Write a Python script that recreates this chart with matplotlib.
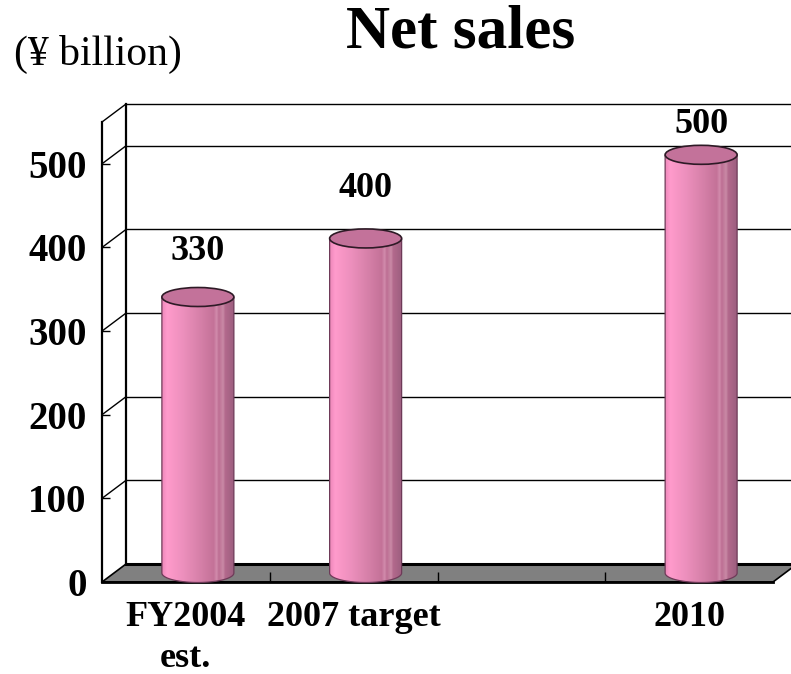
import numpy as np
import matplotlib
matplotlib.use("Agg")
import matplotlib.pyplot as plt
from matplotlib.colors import LinearSegmentedColormap
from matplotlib.patches import Polygon, Ellipse

categories = ["FY2004\nest.", "2007 target", "", "2010"]
sales = [330, 400, np.nan, 500]
y_ticks = [0, 100, 200, 300, 400, 500]
y_max = 550
value_label_pad = [27, 30, 16]  # points above each bar top

plt.rcParams["font.family"] = ["Liberation Serif", "DejaVu Serif"]

fig = plt.figure(figsize=(7.91, 6.74), dpi=100)
W, H = 791, 674
ax = fig.add_axes([102 / W, (H - 582) / H, (773 - 102) / W, (582 - 122) / H])
ax.set_xlim(-0.5, 3.5)
ax.set_ylim(0, y_max)

# depth of the fake 3D box, in data units (about 24 px right, 18 px up)
px_x = (773 - 102) / 4.0
px_y = (582 - 122) / y_max
DX = 24 / px_x
DY = 18 / px_y

x0, x1 = -0.5, 3.5
line_kw = dict(color="black", clip_on=False)

# back wall gridlines and top edge
for t in y_ticks[1:] + [y_max]:
    ax.plot([x0 + DX, x1 + DX], [t + DY, t + DY], lw=1.0, zorder=1, **line_kw)
    ax.plot([x0, x0 + DX], [t, t + DY], lw=1.0, zorder=1, **line_kw)

# left wall edges
ax.plot([x0, x0], [0, y_max], lw=1.6, zorder=2, **line_kw)
ax.plot([x0 + DX, x0 + DX], [DY, y_max + DY], lw=1.6, zorder=1, **line_kw)

# floor
floor = Polygon([(x0, 0), (x1, 0), (x1 + DX, DY), (x0 + DX, DY)],
                closed=True, fc="#808080", ec="black", lw=1.2,
                zorder=1.5, clip_on=False)
ax.add_patch(floor)
ax.plot([x0 + DX, x1 + DX], [DY, DY], lw=2.2, zorder=1.6, **line_kw)
ax.plot([x0, x1], [0, 0], lw=2.0, zorder=1.6, **line_kw)

# cylinders
body_cmap = LinearSegmentedColormap.from_list("pinkbar", [
    (0.00, "#EE88BA"), (0.07, "#FF9BCC"), (0.30, "#EC8FBC"),
    (0.55, "#D47FA7"), (0.72, "#C47298"), (0.76, "#D28CAC"),
    (0.79, "#BD6E93"), (0.85, "#C98AA6"), (0.88, "#B3698C"),
    (1.00, "#9C5F7F")])
grad = body_cmap(np.linspace(0, 1, 256))[np.newaxis, :, :3]

bar_w = 72 / px_x
ell_h = 19 / px_y
base = DY / 2
theta = np.linspace(np.pi, 2 * np.pi, 60)

labelled = 0
for i, v in enumerate(sales):
    if np.isnan(v):
        continue
    cx = i + DX / 2
    top = v + DY / 2
    arc = np.column_stack([cx + bar_w / 2 * np.cos(theta),
                           base + ell_h / 2 * np.sin(theta)])
    outline = np.vstack([[cx - bar_w / 2, top], arc, [cx + bar_w / 2, top]])
    body = Polygon(outline, closed=True, fc="none", ec="#6E3A58", lw=0.9,
                   zorder=3.2, clip_on=False)
    im = ax.imshow(grad, extent=[cx - bar_w / 2, cx + bar_w / 2,
                                 base - ell_h / 2, top],
                   aspect="auto", interpolation="bilinear", zorder=3)
    ax.add_patch(body)
    im.set_clip_path(body)
    im.set_clip_box(None)
    cap = Ellipse((cx, top), bar_w, ell_h, fc="#C3729A", ec="#2E1A26",
                  lw=1.2, zorder=4, clip_on=False)
    ax.add_patch(cap)
    ax.annotate(f"{v:.0f}", (cx, top), xytext=(0, value_label_pad[labelled]),
                textcoords="offset points", ha="center", va="baseline",
                fontsize=26, fontweight="bold", zorder=5,
                annotation_clip=False)
    labelled += 1

ax.set_aspect("auto")
ax.set_xlim(-0.5, 3.5)
ax.set_ylim(0, y_max)

for s in ax.spines.values():
    s.set_visible(False)
ax.patch.set_visible(False)

ax.set_yticks(y_ticks)
ax.set_yticklabels([str(t) for t in y_ticks], fontsize=28, fontweight="bold")
ax.tick_params(axis="y", direction="in", length=6, width=1.0, pad=11)

ax.set_xticks(range(len(categories)))
ax.set_xticklabels(categories, fontsize=26, fontweight="bold",
                   linespacing=1.32)
ax.set_xticks([0.5, 1.5, 2.5], minor=True)
ax.tick_params(axis="x", which="major", length=0, pad=14)
ax.tick_params(axis="x", which="minor", direction="in", length=7.5,
               width=1.0)

fig.text(461 / W, 1 - 48 / H, "Net sales", ha="center", va="baseline",
         fontsize=44, fontweight="bold")
fig.text(98 / W, 1 - 65 / H, "(¥ billion)", ha="center", va="baseline",
         fontsize=30)

fig.savefig("out.png", dpi=100)
